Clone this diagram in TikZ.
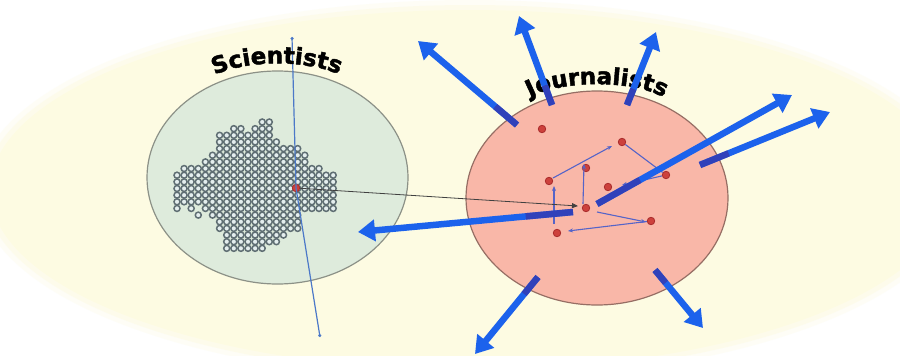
\documentclass[tikz,border=0pt]{standalone}
\usepackage{fontspec}
\newfontfamily\lblfont{DejaVu Sans}[UprightFont={* Bold}, UprightFeatures={FakeBold=2}]
\usetikzlibrary{arrows.meta,decorations.text,calc,shapes.geometric}
\definecolor{bgcream}{RGB}{253,251,226}
\definecolor{scifill}{RGB}{222,235,220}
\definecolor{sciline}{RGB}{140,145,135}
\definecolor{jourfill}{RGB}{249,183,168}
\definecolor{jourline}{RGB}{150,110,100}
\definecolor{ringcol}{RGB}{95,110,115}
\definecolor{ringfill}{RGB}{228,238,238}
\definecolor{bigblue}{RGB}{28,98,236}
\definecolor{tailblue}{RGB}{55,55,170}
\definecolor{thinblue}{RGB}{75,120,200}
\definecolor{smallblue}{RGB}{85,100,200}
\definecolor{dotred}{RGB}{205,65,60}
\definecolor{dotedge}{RGB}{170,45,45}
\begin{document}
\begin{tikzpicture}[x=1pt,y=-1pt,
  group/.style={ellipse, inner sep=0pt},
  ring/.style={draw=ringcol, fill=ringfill, line width=1.5pt},
  rdot/.style={circle, fill=dotred, draw=dotedge, line width=0.8pt, minimum size=7.5pt, inner sep=0pt},
  bigarrow/.style={draw=bigblue, line width=6.5pt, -{Triangle[length=17pt,width=21pt]}},
  tailseg/.style={draw=tailblue, line width=6.5pt, opacity=0.75},
  smallarrow/.style={draw=smallblue, line width=1.1pt, -{Stealth[length=5pt,width=4pt]}},
  probe/.style={draw=thinblue, line width=1.2pt, -{Circle[length=3pt]}},
  linkarrow/.style={draw=black!75, line width=0.8pt, -{Triangle[length=6pt,width=5pt]}},
  curvedlabel/.style={decorate, decoration={text along path, text align=center}}
]
\useasboundingbox (0,0) rectangle (900,356);
\fill[white] (0,0) rectangle (900,356);
% soft cream background
\fill[bgcream, opacity=0.3] (470,190) ellipse [x radius=492, y radius=190];
\fill[bgcream, opacity=0.5] (470,190) ellipse [x radius=486, y radius=185];
\fill[bgcream] (470,190) ellipse [x radius=480, y radius=180];

% groups
\node[group, draw=sciline, fill=scifill, line width=1.2pt, minimum width=261pt, minimum height=213pt] (sci) at (277.5,177.5) {};
\node[group, draw=jourline, fill=jourfill, line width=1.2pt, minimum width=262pt, minimum height=214pt] (jour) at (597,198) {};

% scientists cluster
\foreach \j/\a/\b in {0/12/13, 1/8/9, 1/11/13, 2/6/13, 3/6/14, 4/6/17, 5/5/18, 6/4/18,
  7/1/20, 8/0/22, 9/0/22, 10/0/22, 11/0/22, 12/0/22, 13/0/0, 13/2/2, 13/4/22,
  14/3/3, 14/5/17, 15/6/17, 16/6/17, 17/7/15, 18/7/14, 19/7/12}{
  \foreach \i in {\a,...,\b}{
    \draw[ring] (177+7.1*\i, 122+6.65*\j) circle [radius=3];
  }
}

% probe line through the scientists
\coordinate (ptop) at (292,37);
\coordinate (pbot) at (320,337);
\node[rdot] (s0) at (296,188) {};
\draw[probe] (s0.center) -- (ptop);
\draw[probe] (s0.center) -- (pbot);

% labels
\path[curvedlabel, decoration={text={|\lblfont\fontsize{23}{23}\selectfont|Scientists}}]
  (205,80) .. controls (240,58) and (312,58) .. (349,79);
\path[curvedlabel, decoration={text={|\lblfont\fontsize{23}{23}\selectfont|Journalists}}]
  (524,101) .. controls (555,79) and (637,78) .. (670,101);

% journalists
\node[rdot] (j1) at (542,129) {};
\node[rdot] (j2) at (622,142) {};
\node[rdot] (j3) at (586,168) {};
\node[rdot] (j4) at (549,181) {};
\node[rdot] (j5) at (608,187) {};
\node[rdot] (j6) at (666,175) {};
\node[rdot] (j7) at (586,208) {};
\node[rdot] (j8) at (651,221) {};
\node[rdot] (j9) at (557,233) {};

\coordinate (a1) at (612,146);
\coordinate (a3) at (622,185);
\coordinate (a4) at (584,164);
\coordinate (a5) at (554,186);
\coordinate (a6) at (646,222);
\coordinate (a7) at (568,231);
\draw[smallarrow] (553,178) -- (a1);
\draw[draw=smallblue, line width=1.1pt] (j2) -- (j6);
\draw[smallarrow] (j6) -- (a3);
\draw[smallarrow] (583,204) -- (a4);
\draw[smallarrow] (554,224) -- (a5);
\draw[smallarrow] (597,212) -- (a6);
\draw[smallarrow] (j8) -- (a7);

% link from scientist to journalists
\coordinate (lk) at (578,206);
\draw[linkarrow] (s0) -- (lk);

% big outgoing arrows
\foreach \tx/\ty/\hx/\hy in {573/212/358/232, 517/125/418/41, 552/105/519/16,
  627/105/656/32, 597/204/792/95, 700/165/830/112,
  538/277/475/354, 655/270/703/328}{
  \coordinate (tl) at (\tx,\ty);
  \coordinate (hd) at (\hx,\hy);
  \draw[bigarrow] (tl) -- (hd);
  \draw[tailseg] (tl) -- ($(tl)!0.22!(hd)$);
}
\end{tikzpicture}
\end{document}
